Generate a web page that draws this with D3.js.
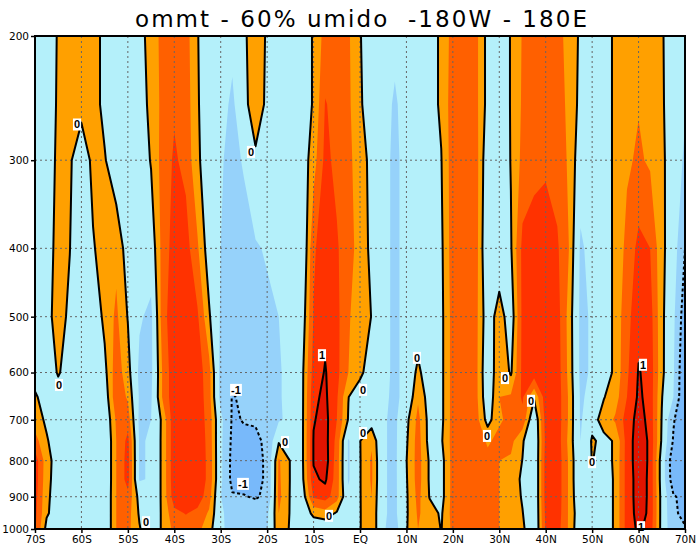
<!DOCTYPE html>
<html><head><meta charset="utf-8">
<script src="https://cdn.jsdelivr.net/npm/d3@7"></script>
<style>body{margin:0;background:#fff}svg{display:block}</style>
</head><body><svg width="700" height="546"></svg>
<script>
// ---- data ----
const lats = [-70,-67.5,-65,-62.5,-60,-57.5,-55,-52.5,-50,-47.5,-45,-42.5,-40,-37.5,-35,-32.5,-30,-27.5,-25,-22.5,-20,-17.5,-15,-12.5,-10,-7.5,-5,-2.5,0,2.5,5,7.5,10,12.5,15,17.5,20,22.5,25,27.5,30,32.5,35,37.5,40,42.5,45,47.5,50,52.5,55,57.5,60,62.5,65,67.5,70];
const levels = [200,250,300,400,500,600,650,700,750,800,850,900,950,1000];
const r200 = [-0.2,-0.3,0.045,0.25,0.25,0.15,-0.1,-0.25,-0.3,-0.15, 0.17,0.45,0.6,0.5,0.02,-0.27,-0.3, -0.35,-0.05,0.16,-0.035,-0.3,-0.3, -0.15,0.024,0.5,0.55,0.4,0.03,-0.32, -0.35,-0.4,-0.35,-0.3,-0.15,0.058, 0.5,0.6,0.45,-0.134,-0.3,0.026,0.38, 0.45,0.45,0.4,0.3,-0.085,-0.3,-0.2, 0.082,0.25,0.3,0.25,0.03,-0.17,-0.3];
const r250 = [-0.2,-0.3,0.07,0.25,0.2,0.15,-0.1,-0.25,-0.3,-0.2, 0.11,0.45,0.65,0.55,0.03,-0.2,-0.3, -0.6,-0.08,0.15,-0.055,-0.3,-0.3, -0.15,0.024,0.72,0.6,0.42,0.06,-0.25, -0.35,-0.55,-0.35,-0.3,-0.15,0.058, 0.55,0.62,0.45,-0.134,-0.3,0.026,0.4, 0.5,0.5,0.45,0.3,-0.13,-0.3,-0.2, 0.082,0.3,0.33,0.3,0.04,-0.17,-0.45];
const r300 = [-0.2,-0.3,0.117,0.08,-0.4,0.15,0.03,-0.25,-0.3,-0.28, 0.03,0.5,0.75,0.6,0.06,-0.21,-0.45, -0.65,-0.45,-0.05,-0.3,-0.3,-0.3, -0.235,0.2,0.8,0.6,0.45,0.15,-0.1, -0.35,-0.6,-0.35,-0.3,-0.3,-0.015, 0.55,0.65,0.5,-0.306,-0.35,0.02,0.45, 0.6,0.65,0.55,0.3,-0.266,-0.35,-0.2, 0.082,0.3,0.4,0.3,0.05,-0.135,-0.6];
const r400 = [-0.2,-0.166,0.12,0.005,-0.25,-0.05,0.244,0.25,-0.174,-0.3, -0.26,0.5,0.85,0.85,0.4,-0.215,-0.5, -0.7,-0.7,-0.55,-0.45,-0.4,-0.3, -0.433,0.65,0.9,0.75,0.45,0.25,-0.11, -0.35,-0.6,-0.35,-0.3,-0.2,-0.075, 0.55,0.68,0.5,-0.41,-0.35,-0.0376,0.8, 0.85,0.85,0.75,0.35,-0.57,-0.35,-0.25, 0.1,0.45,0.8,0.7,0.1,-0.26,-1.0];
const r500 = [-0.2,-0.08,0.1,-0.049,-0.3,-0.3,0.1,0.42,-0.02,-0.45, -0.6,0.55,0.95,0.95,0.75,0.05,-0.55, -0.8,-0.85,-0.75,-0.6,-0.5,-0.35, -0.246,0.72,0.92,0.8,0.38,0.2,-0.01, -0.35,-0.6,-0.35,-0.3,-0.25,-0.1, 0.5,0.6,0.45,-0.25,0.2,-0.25,0.8, 0.9,0.92,0.85,0.22,-0.6,-0.45,-0.25, 0.1,0.6,0.9,0.85,0.094,-0.4,-1.3];
const r600 = [-0.1,-0.2,0.03,-0.15,-0.3,-0.3,-0.11,0.55,0.15,-0.6, -0.6,0.4,0.95,0.97,0.9,0.475,-0.66, -0.9,-0.95,-0.9,-0.7,-0.55,-0.35, -0.105,0.85,1.02,0.8,0.35,0.12,-0.3, -0.35,-0.6,-0.35,0.1,-0.3,-0.1, 0.5,0.6,0.45,-0.35,0.3,-0.05,0.8, 0.9,0.92,0.88,0.25,-0.6,-0.45,-0.25, 0.1,0.65,1.02,0.9,0.1,-0.45,-1.5];
const r650 = [0.03,-0.1,-0.15,-0.2,-0.3,-0.3,-0.245,0.6,0.3,-0.55, -0.55,0.4,0.95,0.97,0.92,0.5,-0.66, -1.02,-0.95,-0.9,-0.75,-0.55,-0.35, -0.105,0.95,1.05,0.75,0.01,-0.3,-0.35, -0.4,-0.6,-0.35,0.3,-0.2,-0.1, 0.5,0.6,0.45,-0.3,0.35,0.4,0.75, 0.05,0.9,0.9,0.3,-0.55,-0.4,-0.02, 0.2,0.7,1.05,0.9,0.02,-0.5,-1.5];
const r700 = [0.15,-0.058,-0.2,-0.25,-0.3,-0.3,-0.354,0.4,0.55,-0.6, -0.5,0.1,0.95,0.97,0.93,0.55,-0.38, -1.05,-0.98,-0.95,-0.8,-0.55,-0.4, -0.1,0.98,1.1,0.7,-0.03,-0.4,-0.2, -0.45,-0.6,-0.1,0.45,-0.15,-0.1, 0.5,0.55,0.5,-0.15,0.3,0.45,0.6, -0.4,0.85,0.9,0.3,-0.55,-0.15,0.15, 0.4,0.85,1.1,0.92,-0.02,-0.95,-1.45];
const r750 = [0.5,0.035,-0.2,-0.25,-0.3,-0.3,-0.43,0.35,0.8,-0.55, -0.45,0.1,0.95,0.97,0.95,0.58,-0.4, -1.1,-1.08,-1.1,-0.9,-0.05,-0.5, -0.1,1.02,1.12,0.6,-0.55,-0.01,0.3, -0.45,-0.6,-0.05,0.5,-0.15,-0.05, 0.5,0.55,0.55,0.3,0.45,0.45,0.05, -0.45,0.8,0.9,0.25,-0.5,0.05,-0.1, 0.04,0.85,1.15,0.95,-0.05,-1.05,-1.4];
const r800 = [0.9,0.15,-0.2,-0.25,-0.3,-0.3,-0.43,0.35,0.85,-0.55, -0.45,0.1,0.95,0.97,0.95,0.6,-0.4, -1.15,-1.2,-1.15,-0.92,0.4,-0.02, -0.1,1.02,1.15,0.55,-0.55,-0.02,0.4, -0.45,-0.6,-0.01,0.5,-0.05,-0.15, 0.5,0.5,0.5,0.45,0.35,0.3,-0.01, -0.45,0.85,0.92,0.3,-0.45,0.02,-0.2, 0.08,0.85,1.15,0.95,-0.2,-1.35,-1.3];
const r850 = [0.9,0.12,-0.2,-0.25,-0.3,-0.3,-0.43,0.35,0.85,-0.55, -0.45,0.1,0.95,0.97,0.95,0.6,-0.4, -1.15,-1.2,-1.15,-0.92,0.42,-0.02, -0.12,0.95,1.05,0.55,-0.55,-0.02,0.4, -0.45,-0.6,-0.03,0.5,-0.05,-0.15, 0.5,0.5,0.5,0.45,0.35,0.3,-0.1, -0.45,0.85,0.92,0.3,-0.45,-0.1,-0.3, 0.08,0.85,1.12,0.95,-0.2,-1.3,-1.2];
const r900 = [0.85,0.08,-0.2,-0.25,-0.3,-0.3,-0.4,0.35,0.6,-0.14, -0.45,0.1,0.9,0.95,0.9,0.5,-0.48, -0.95,-0.97,-1.05,-0.9,0.45,-0.03, -0.26,0.75,0.85,0.5,-0.4,-0.02,0.35, -0.45,-0.6,-0.05,0.45,-0.02,-0.15, 0.5,0.5,0.5,0.45,0.35,0.3,-0.05, -0.45,0.85,0.92,0.3,-0.4,-0.2,-0.3, 0.08,0.85,1.12,0.95,-0.15,-0.95,-1.15];
const r950 = [0.8,0.05,-0.2,-0.25,-0.3,-0.3,-0.4,0.35,0.5,-0.05, -0.4,0.08,0.6,0.72,0.6,0.3,-0.4, -0.75,-0.75,-0.7,-0.6,0.35,-0.03, -0.3,0.1,0.2,-0.05,-0.3,-0.02,0.3, -0.45,-0.6,-0.05,0.4,0.15,-0.05, 0.5,0.5,0.5,0.45,0.35,0.3,0.02, -0.45,0.8,0.9,0.3,-0.3,-0.2,-0.3, 0.08,0.85,1.1,0.95,-0.15,-0.9,-1.15];
const r1000 = [0.75,-0.12,-0.2,-0.25,-0.3,-0.3,-0.4,0.35,0.45,0.03, -0.3,0.06,0.45,0.5,0.45,0.15,-0.4, -0.7,-0.75,-0.7,-0.55,0.3,-0.05, -0.3,-0.3,-0.3,-0.2,-0.3,-0.02,0.3, -0.45,-0.7,-0.03,0.35,0.3,-0.02, 0.45,0.45,0.45,0.4,0.35,0.3,0.1, -0.45,0.75,0.85,0.3,-0.35,-0.2,-0.3, 0.08,0.85,1.05,0.9,-0.15,-0.85,-0.95];

const shadeLevels = [-1,-0.5,0,0.35,0.7,1];
const shadeColors = ["#96d2fa","#b4f0fa","#ffa000","#ff6000","#ff3200","#e11400"];
const baseColor = "#78b9fa";
const lineLevels = [-1,0,1];

const xTickValues = [-70,-60,-50,-40,-30,-20,-10,0,10,20,30,40,50,60,70];
const xTickLabels = ["70S","60S","50S","40S","30S","20S","10S","EQ","10N","20N","30N","40N","50N","60N","70N"];
const yTicks = [200,300,400,500,600,700,800,900,1000];

const labelText = ["0","0","0","0","-1","-1","0","1","0","0","0","0","0","0","0","0","1","1"];
const labelLat  = [-60.95,-64.83,-23.48,-46.09,-26.71,-25.2,-16.15,-8.19,-6.68,0.65,0.65,12.27,27.35,31.23,36.83,49.97,60.95,60.52];
const labelP    = [267,625,292,978,635,863,753,567,958,635,731,572,738,611,658,804,585,994];

const title = "ommt - 60% umido  -180W - 180E";

// ---- drawing ----
const svg = d3.select("svg");
const x = d3.scaleLinear().domain([-70,70]).range([35,685]);
const y = d3.scaleLog().domain([200,1000]).range([36,529]);

const grid = [r200,r250,r300,r400,r500,r600,r650,r700,r750,r800,r850,r900,r950,r1000];
const n = lats.length, m = levels.length;
const values = grid.flat();
const ix = d3.scaleLinear().domain(d3.range(n)).range(lats.map(x)).clamp(true);
const iy = d3.scaleLinear().domain(d3.range(m)).range(levels.map(y)).clamp(true);
const proj = d3.geoTransform({point: function(px, py){ this.stream.point(ix(px-0.5), iy(py-0.5)); }});
const path = d3.geoPath(proj);

const [x0,x1] = x.range(), [y0,y1] = y.range();
svg.append("defs").append("clipPath").attr("id","clip").append("rect")
  .attr("x",x0).attr("y",y0).attr("width",x1-x0).attr("height",y1-y0);
const g = svg.append("g").attr("clip-path","url(#clip)");
g.append("rect").attr("x",x0).attr("y",y0).attr("width",x1-x0).attr("height",y1-y0).attr("fill",baseColor);

const shade = d3.contours().size([n,m]).thresholds(shadeLevels)(values);
g.selectAll("path.s").data(shade).join("path").attr("class","s")
  .attr("d",path).attr("fill",(d,i)=>shadeColors[i]);

// grid lines
g.selectAll("line.gx").data(xTickValues.slice(1,-1)).join("line").attr("class","gx")
  .attr("x1",d=>x(d)).attr("x2",d=>x(d)).attr("y1",y0).attr("y2",y1)
  .attr("stroke","#666").attr("stroke-width",1).attr("stroke-dasharray","2,3");
g.selectAll("line.gy").data(yTicks.slice(1,-1)).join("line").attr("class","gy")
  .attr("y1",d=>y(d)).attr("y2",d=>y(d)).attr("x1",x0).attr("x2",x1)
  .attr("stroke","#666").attr("stroke-width",1).attr("stroke-dasharray","2,3");

const lines = d3.contours().size([n,m]).thresholds(lineLevels)(values);
g.selectAll("path.l").data(lines).join("path").attr("class","l")
  .attr("d",path).attr("fill","none").attr("stroke","#000").attr("stroke-width",2)
  .attr("stroke-linejoin","round")
  .attr("stroke-dasharray",d=>d.value<0?"3,2.5":null);

// contour labels
const lg = svg.append("g").attr("font-family","'Liberation Sans', Arial, sans-serif")
  .attr("font-weight","bold").attr("font-size",11);
labelText.forEach((t,i)=>{
  const px = x(labelLat[i]), py = y(labelP[i]);
  const r = lg.append("rect").attr("fill","#fff");
  const tx = lg.append("text").attr("x",px).attr("y",py).attr("text-anchor","middle")
    .attr("dy","0.36em").text(t);
  const bb = tx.node().getBBox();
  r.attr("x",bb.x-1).attr("y",py-6).attr("width",bb.width+2).attr("height",12);
});

// frame
svg.append("rect").attr("x",x0).attr("y",y0).attr("width",x1-x0).attr("height",y1-y0)
  .attr("fill","none").attr("stroke","#000").attr("stroke-width",2);

// axes
const ya = svg.append("g").attr("transform",`translate(${x0},0)`)
  .call(d3.axisLeft(y).tickValues(yTicks).tickFormat(d=>String(d)).tickSize(4).tickPadding(2));
const xa = svg.append("g").attr("transform",`translate(0,${y1})`)
  .call(d3.axisBottom(x).tickValues(xTickValues).tickFormat((d,i)=>xTickLabels[i]).tickSize(4).tickPadding(3));
[ya,xa].forEach(a=>{
  a.select(".domain").remove();
  a.attr("font-family","'DejaVu Sans', sans-serif").attr("font-size",10.5);
  a.selectAll(".tick line").attr("stroke","#000").attr("stroke-width",1.5);
  a.selectAll("text").attr("fill","#000");
});

// title
svg.append("text").attr("x",361).attr("y",27).attr("text-anchor","middle")
  .attr("font-family","'DejaVu Sans', sans-serif").attr("font-size",23)
  .style("white-space","pre").attr("textLength",452).attr("lengthAdjust","spacing")
  .text(title);
</script>
</body></html>
